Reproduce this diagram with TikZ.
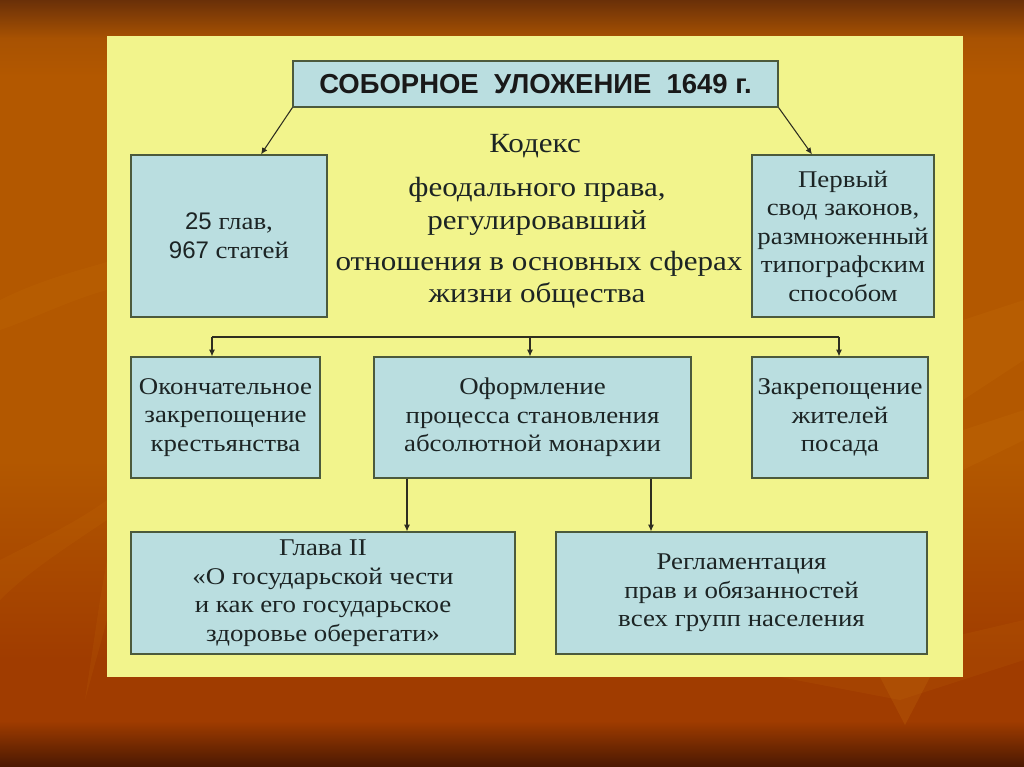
\documentclass[tikz,border=0pt]{standalone}
\usepackage{fontspec}
\setmainfont{Liberation Serif}[FakeStretch=1.12]
\newfontfamily\sansdig{Liberation Sans}
\usetikzlibrary{arrows.meta,calc}
\definecolor{bgTop}{HTML}{6A3008}
\definecolor{bgA}{HTML}{A85202}
\definecolor{bgMid}{HTML}{B35800}
\definecolor{bgLow}{HTML}{A03C00}
\definecolor{bgBot}{HTML}{4A1802}
\definecolor{streak}{HTML}{D07A10}
\definecolor{panel}{HTML}{F2F48C}
\definecolor{boxfill}{HTML}{BADEE0}
\definecolor{boxline}{HTML}{4C5A3C}
\definecolor{txt}{HTML}{1C2424}
\definecolor{wire}{HTML}{2E2E20}
% TikZ maps the path box to 25bp..75bp of the shading
\pgfdeclareverticalshading{bgshade}{100bp}{color(0bp)=(bgBot); color(25bp)=(bgBot); color(28bp)=(bgLow); color(32bp)=(bgLow); color(45bp)=(bgMid); color(70bp)=(bgMid); color(72.5bp)=(bgA); color(75bp)=(bgTop); color(100bp)=(bgTop)}
\newcommand\boxfont{\fontsize{18}{21.4}\selectfont}
\newcommand\codefont{\fontsize{20.8}{24}\selectfont}
\tikzset{
  box/.style={draw=boxline, fill=boxfill, line width=0.9pt, inner sep=1pt,
              align=center, text=txt, font=\boxfont},
  arr/.style={draw=wire, line width=0.8pt, -{Latex[length=5pt,width=4.5pt]}},
  wireline/.style={draw=wire, line width=0.8pt},
  codeline/.style={anchor=base, text=txt, font=\codefont, inner sep=0pt}
}
\begin{document}
\begin{tikzpicture}[x=0.75pt,y=-0.75pt]
\useasboundingbox (0,0) rectangle (1024,767);
% background
\shade[shading=bgshade] (0,0) rectangle (1024,767);
\fill[streak, opacity=0.12] (0,300) .. controls (40,280) and (80,270) .. (107,262) -- (107,290) .. controls (70,300) and (30,320) .. (0,330) -- cycle;
\fill[streak, opacity=0.12] (0,560) .. controls (40,540) and (80,520) .. (107,500) -- (107,520) .. controls (70,545) and (30,570) .. (0,600) -- cycle;
\fill[streak, opacity=0.12] (85,700) -- (100,600) -- (107,560) -- (107,620) -- cycle;
\fill[streak, opacity=0.15] (963,320) -- (1024,300) -- (1024,360) -- (963,400) -- cycle;
\fill[streak, opacity=0.15] (963,430) -- (1024,410) -- (1024,440) -- (963,470) -- cycle;
\fill[streak, opacity=0.2] (880,677) -- (905,725) -- (930,677) -- cycle;
\fill[streak, opacity=0.12] (780,677) -- (1024,620) -- (1024,660) -- (900,700) -- cycle;
% panel
\fill[panel] (107,36) rectangle (963,677);

% boxes
\node[box, minimum width=363.75pt, minimum height=34.5pt,
      font=\sansdig\bfseries\fontsize{20.6}{24}\selectfont, text=black!90]
      (title) at (535.5,84) {СОБОРНОЕ\ \ УЛОЖЕНИЕ\ \ 1649 г.};
\node[box, minimum width=147pt, minimum height=121.5pt] (L1) at (229,236)
      {{\sansdig 25} глав,\\{\sansdig 967} статей};
\node[box, minimum width=136.5pt, minimum height=121.5pt] (R1) at (843,236)
      {Первый\\свод законов,\\размноженный\\типографским\\способом};
\node[box, minimum width=141.75pt, minimum height=90.75pt] (A) at (225.5,417.5)
      {Окончательное\\закрепощение\\крестьянства};
\node[box, minimum width=237.75pt, minimum height=90.75pt] (B) at (532.5,417.5)
      {Оформление\\процесса становления\\абсолютной монархии};
\node[box, minimum width=132pt, minimum height=90.75pt] (C) at (840,417.5)
      {Закрепощение\\жителей\\посада};
\node[box, minimum width=288pt, minimum height=91.5pt] (D) at (323,593)
      {Глава II\\«О государьской чести\\и как его государьское\\здоровье оберегати»};
\node[box, minimum width=278.25pt, minimum height=91.5pt] (E) at (741.5,593)
      {Регламентация\\прав и обязанностей\\всех групп населения};

% central text
\node[codeline] (c1) at (535,152) {Кодекс};
\node[codeline] (c2) at (537,196) {феодального права,};
\node[codeline] (c3) at (537,229) {регулировавший};
\node[codeline] (c4) at (539,270) {отношения в основных сферах};
\node[codeline] (c5) at (537,302) {жизни общества};

% connectors from title
\draw[arr] (title.south west) -- ([xshift=24pt]L1.north);
\draw[arr] (title.south east) -- ([xshift=-23.25pt]R1.north);

% bus line
\coordinate (busL) at (212,337);
\coordinate (busM) at (530,337);
\coordinate (busR) at (839,337);
\draw[wireline] (busL) -- (busR);
\draw[arr] (busL) -- (busL |- A.north);
\draw[arr] (busM) -- (busM |- B.north);
\draw[arr] (busR) -- (busR |- C.north);

% from B downward
\coordinate (b1) at ([xshift=-94.125pt]B.south);
\coordinate (b2) at ([xshift=88.875pt]B.south);
\draw[arr] (b1) -- (b1 |- D.north);
\draw[arr] (b2) -- (b2 |- E.north);
\end{tikzpicture}
\end{document}
